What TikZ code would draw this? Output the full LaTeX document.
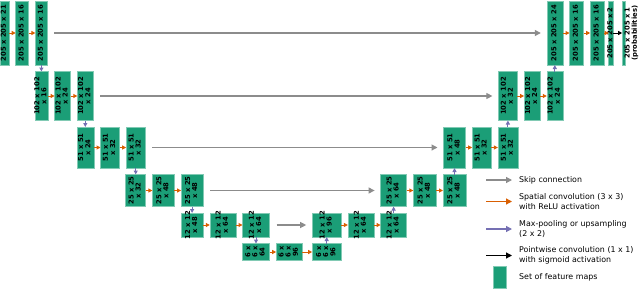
\documentclass[tikz,border=0pt]{standalone}
\usepackage{fontspec}
\setmainfont{DejaVu Sans}
\usepackage{graphicx}
\usepackage{tikz}
\usetikzlibrary{positioning,arrows.meta}
\definecolor{cverde}{HTML}{1B9E77}
\definecolor{cnaranja}{HTML}{D95F02}
\definecolor{cmorado}{HTML}{7570B3}
\definecolor{cgris}{HTML}{8C8C8C}
\newcommand{\rotado}[1]{\makebox[0pt]{\raisebox{-.5\height}[0pt][0pt]{\rotatebox{90}{\begin{tabular}{@{}c@{}}#1\end{tabular}}}}}
\tikzset{
  mapa/.style={rectangle, draw=cverde!55!white, line width=0.5pt, fill=cverde,
    inner sep=0pt, outer sep=0pt, font=\fontsize{6.8}{7}\selectfont\bfseries},
  n1/.style={minimum height=64pt},
  n2/.style={minimum height=49pt},
  n3/.style={minimum height=41pt},
  n4/.style={minimum height=32pt},
  n5/.style={minimum height=24pt},
  n6/.style={minimum height=17pt},
  conv/.style={-{Triangle[length=4pt,width=4pt]}, line width=1pt, draw=cnaranja},
  pool/.style={-{Triangle[length=4pt,width=4pt]}, line width=1pt, draw=cmorado},
  punto/.style={-{Triangle[length=4pt,width=4pt]}, line width=1pt, draw=black},
  salto/.style={-{Triangle[length=6pt,width=6pt]}, line width=1.1pt, draw=cgris,
    shorten <=7pt, shorten >=6pt},
  lflecha/.style={-{Triangle[length=6pt,width=6pt]}, line width=1.2pt},
  leyenda/.style={font=\fontsize{7.9}{10}\selectfont, align=left, inner sep=0pt},
}

\begin{document}
\begin{tikzpicture}[node distance=6.5pt and 6.7pt]
  \useasboundingbox (0,0) rectangle (640pt,-290pt);
  % contracting path
  \node[mapa, n1, minimum width=9pt, anchor=north west] (b1a) at (0pt,-1pt) {\rotado{205 x 205 x 21}};
  \node[mapa, n1, minimum width=13pt, right=of b1a] (b1b) {\rotado{205 x 205 x 16}};
  \node[mapa, n1, minimum width=12pt, right=of b1b] (b1c) {\rotado{205 x 205 x 16}};
  \node[mapa, n2, minimum width=13pt, below=of b1c] (b2a) {\rotado{102 x 102\\x 16}};
  \node[mapa, n2, minimum width=16pt, right=of b2a] (b2b) {\rotado{102 x 102\\x 24}};
  \node[mapa, n2, minimum width=16pt, right=of b2b] (b2c) {\rotado{102 x 102\\x 24}};
  \node[mapa, n3, minimum width=17pt, below=of b2c] (b3a) {\rotado{51 x 51\\x 24}};
  \node[mapa, n3, minimum width=19pt, right=of b3a] (b3b) {\rotado{51 x 51\\x 32}};
  \node[mapa, n3, minimum width=19pt, right=of b3b] (b3c) {\rotado{51 x 51\\x 32}};
  \node[mapa, n4, minimum width=20pt, below=of b3c] (b4a) {\rotado{25 x 25\\x 32}};
  \node[mapa, n4, minimum width=22pt, right=of b4a] (b4b) {\rotado{25 x 25\\x 48}};
  \node[mapa, n4, minimum width=22pt, right=of b4b] (b4c) {\rotado{25 x 25\\x 48}};
  \node[mapa, n5, minimum width=22pt, below=of b4c] (b5a) {\rotado{12 x 12\\x 48}};
  \node[mapa, n5, minimum width=26pt, right=of b5a] (b5b) {\rotado{12 x 12\\x 64}};
  \node[mapa, n5, minimum width=27pt, right=of b5b] (b5c) {\rotado{12 x 12\\x 64}};
  % bottom
  \node[mapa, n6, minimum width=27pt, below=of b5c] (f6a) {\rotado{6 x\\6 x\\64}};
  \node[mapa, n6, minimum width=26pt, right=of f6a] (f6b) {\rotado{6 x\\6 x\\96}};
  \node[mapa, n6, minimum width=29pt, right=10pt of f6b] (f6c) {\rotado{6 x\\6 x\\96}};
  % expanding path
  \node[mapa, n5, minimum width=29pt, above=of f6c] (s5a) {\rotado{12 x 12\\x 96}};
  \node[mapa, n5, minimum width=26pt, right=of s5a] (s5b) {\rotado{12 x 12\\x 64}};
  \node[mapa, n5, minimum width=26pt, right=of s5b] (s5c) {\rotado{12 x 12\\x 64}};
  \node[mapa, n4, minimum width=26pt, above=of s5c] (s4a) {\rotado{25 x 25\\x 64}};
  \node[mapa, n4, minimum width=23pt, right=of s4a] (s4b) {\rotado{25 x 25\\x 48}};
  \node[mapa, n4, minimum width=23pt, right=of s4b] (s4c) {\rotado{25 x 25\\x 48}};
  \node[mapa, n3, minimum width=22pt, above=of s4c] (s3a) {\rotado{51 x 51\\x 48}};
  \node[mapa, n3, minimum width=19pt, right=of s3a] (s3b) {\rotado{51 x 51\\x 32}};
  \node[mapa, n3, minimum width=20pt, right=of s3b] (s3c) {\rotado{51 x 51\\x 32}};
  \node[mapa, n2, minimum width=19pt, above=of s3c] (s2a) {\rotado{102 x 102\\x 32}};
  \node[mapa, n2, minimum width=16pt, right=of s2a] (s2b) {\rotado{102 x 102\\x 24}};
  \node[mapa, n2, minimum width=16pt, right=of s2b] (s2c) {\rotado{102 x 102\\x 24}};
  \node[mapa, n1, minimum width=16pt, above=of s2c] (s1a) {\rotado{205 x 205 x 24}};
  \node[mapa, n1, minimum width=14pt, right=of s1a] (s1b) {\rotado{205 x 205 x 16}};
  \node[mapa, n1, minimum width=14pt, right=of s1b] (s1c) {\rotado{205 x 205 x 16}};
  \node[mapa, n1, minimum width=4.5pt, right=4.5pt of s1c] (s1d) {\rotado{205 x 205 x 2}};
  \node[mapa, n1, minimum width=3.5pt, right=9pt of s1d] (s1e) {};
  \node[mapa, draw=none, fill=none, right=5.5pt of s1e] (prob) {\rotado{205 x 205 x 1\\(probabilities)}};
  % skip connections
  \draw[salto] (b1c) -- (s1a);
  \draw[salto] (b2c) -- (s2a);
  \draw[salto] (b3c) -- (s3a);
  \draw[salto] (b4c) -- (s4a);
  \draw[salto] (b5c) -- (s5a);
  % convolutions
  \draw[conv] (b1a) -- (b1b);
  \draw[conv] (b1b) -- (b1c);
  \draw[conv] (b2a) -- (b2b);
  \draw[conv] (b2b) -- (b2c);
  \draw[conv] (b3a) -- (b3b);
  \draw[conv] (b3b) -- (b3c);
  \draw[conv] (b4a) -- (b4b);
  \draw[conv] (b4b) -- (b4c);
  \draw[conv] (b5a) -- (b5b);
  \draw[conv] (b5b) -- (b5c);
  \draw[conv] (f6a) -- (f6b);
  \draw[conv] (f6b) -- (f6c);
  \draw[conv] (s5a) -- (s5b);
  \draw[conv] (s5b) -- (s5c);
  \draw[conv] (s4a) -- (s4b);
  \draw[conv] (s4b) -- (s4c);
  \draw[conv] (s3a) -- (s3b);
  \draw[conv] (s3b) -- (s3c);
  \draw[conv] (s2a) -- (s2b);
  \draw[conv] (s2b) -- (s2c);
  \draw[conv] (s1a) -- (s1b);
  \draw[conv] (s1b) -- (s1c);
  \draw[conv] (s1c) -- (s1d);
  \draw[punto] (s1d) -- (s1e);
  % pooling / upsampling
  \draw[pool] (b1c) -- (b2a);
  \draw[pool] (b2c) -- (b3a);
  \draw[pool] (b3c) -- (b4a);
  \draw[pool] (b4c) -- (b5a);
  \draw[pool] (b5c) -- (f6a);
  \draw[pool] (f6c) -- (s5a);
  \draw[pool] (s5c) -- (s4a);
  \draw[pool] (s4c) -- (s3a);
  \draw[pool] (s3c) -- (s2a);
  \draw[pool] (s2c) -- (s1a);
  % legend
  \coordinate (lg1i) at (486pt,-180pt);
  \coordinate (lg1f) at (512pt,-180pt);
  \coordinate (lg2i) at (486pt,-201.5pt);
  \coordinate (lg2f) at (512pt,-201.5pt);
  \coordinate (lg3i) at (486pt,-229pt);
  \coordinate (lg3f) at (512pt,-229pt);
  \coordinate (lg4i) at (486pt,-255.5pt);
  \coordinate (lg4f) at (512pt,-255.5pt);
  \draw[lflecha, draw=cgris] (lg1i) -- (lg1f);
  \draw[lflecha, draw=cnaranja] (lg2i) -- (lg2f);
  \draw[lflecha, draw=cmorado] (lg3i) -- (lg3f);
  \draw[lflecha, draw=black] (lg4i) -- (lg4f);
  \node[leyenda, right=7pt of lg1f] (lg1t) {Skip connection};
  \node[leyenda, right=7pt of lg2f] (lg2t) {Spatial convolution (3 x 3)\\with ReLU activation};
  \node[leyenda, right=7pt of lg3f] (lg3t) {Max-pooling or upsampling\\(2 x 2)};
  \node[leyenda, right=7pt of lg4f] (lg4t) {Pointwise convolution (1 x 1)\\with sigmoid activation};
  \node[mapa, minimum width=13pt, minimum height=22pt] (lgcaja) at (499.5pt,-277pt) {};
  \node[leyenda, right=13pt of lgcaja] (lg5t) {Set of feature maps};
\end{tikzpicture}
\end{document}
